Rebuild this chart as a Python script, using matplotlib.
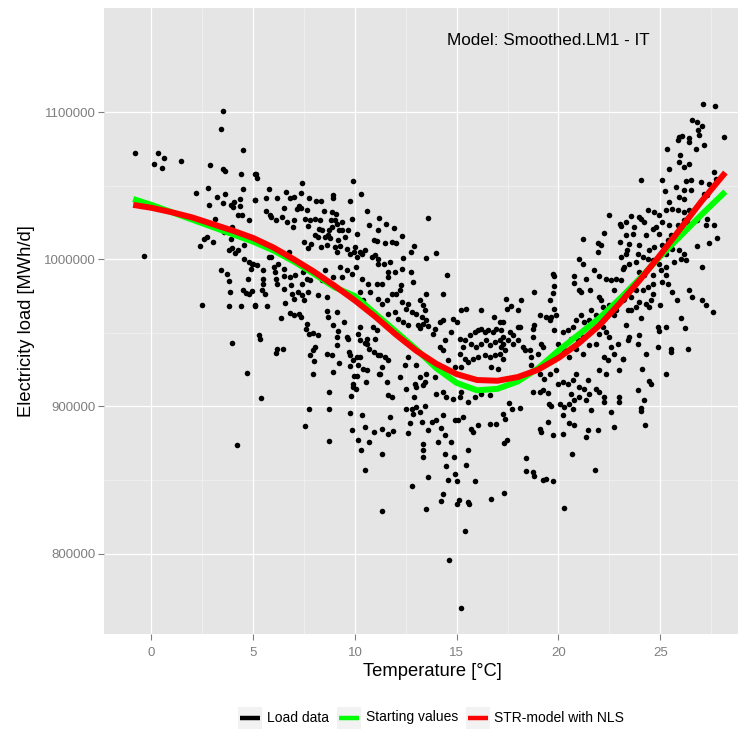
import matplotlib
matplotlib.use("Agg")
import matplotlib.pyplot as plt
from matplotlib.patches import Rectangle
from matplotlib.lines import Line2D
import numpy as np

plt.rcParams['font.family'] = ['Liberation Sans', 'DejaVu Sans']

# ---------------- data (temperature in degC, load in thousand MWh/d) ----------------
pts_cold = [
(-0.82,1072.6),(0.34,1072.6),(0.62,1069.0),(0.11,1064.6),(0.50,1062.4),(1.47,1066.7),(-0.36,1002.0),
(3.53,1100.5),(3.43,1088.6),(4.51,1074.6),(2.88,1064.4),(3.50,1061.4),(3.63,1059.7),(4.40,1057.8),(5.08,1057.8),
(2.19,1044.9),(2.79,1048.8),(3.22,1042.7),(3.63,1044.2),(4.48,1048.1),(2.84,1037.2),(3.53,1038.3),(3.89,1037.2),
(4.07,1038.8),(3.99,1035.6),(4.36,1040.8),(4.36,1036.0),(4.23,1030.4),(4.46,1030.4),(4.77,1027.0),(5.07,1040.3),
(3.12,1027.7),(3.97,1022.0),(2.71,1015.2),(2.60,1013.8),(2.40,1009.3),(3.04,1011.6),(3.56,1018.6),(3.90,1014.1),
(3.79,1006.6),(3.95,1007.7),(4.12,1004.3),(4.23,1006.1),(4.53,1009.7),(4.56,1000.1),(4.77,998.5),(4.98,997.1),
(4.89,993.4),(3.41,993.0),(3.71,990.0),(3.81,985.2),(4.72,986.6),(3.84,977.6),(4.48,979.1),(4.64,977.3),(4.77,976.2),
(4.93,978.4),(2.47,968.7),(3.81,968.0),(4.40,968.5),(5.08,968.5),(3.95,943.3),(4.69,922.9),(4.22,873.9),
]

pts_cool = [
(5.13,1058.3),(5.18,1055.6),(7.42,1052.2),(9.92,1053.1),(5.78,1047.6),(5.11,1040.1),(5.65,1041.7),(6.16,1041.7),
(6.60,1045.8),(6.83,1042.0),(6.98,1042.4),(7.34,1044.9),(7.75,1042.0),(8.10,1039.5),(8.32,1039.5),(8.90,1043.7),
(8.92,1041.7),(9.75,1039.5),(10.31,1044.7),(5.64,1032.9),(5.80,1030.0),(5.88,1028.8),(6.50,1035.2),
(6.11,1026.5),(6.40,1028.8),(6.65,1025.4),(6.98,1026.5),(6.93,1022.0),(7.14,1034.5),(7.27,1036.0),(7.35,1035.2),
(7.66,1033.3),(7.55,1027.7),(7.79,1026.5),(7.71,1022.4),(8.04,1027.7),(8.24,1020.9),(8.28,1026.5),(8.50,1032.7),
(8.86,1032.2),(9.07,1030.6),(9.02,1026.5),(8.86,1022.0),(9.10,1024.3),(8.73,1019.7),(8.66,1016.3),(8.77,1014.8),
(9.18,1012.9),(9.35,1019.7),(9.66,1020.2),(9.85,1027.7),(10.57,1032.7),(10.70,1023.6),(10.08,1017.5),
(10.95,1012.9),(11.08,1012.4),(11.14,1019.7),(8.20,1015.2),(7.47,1011.8),(7.84,1010.7),(7.71,1007.7),
(8.33,1008.2),(8.61,1009.5),(9.02,1008.4),(9.26,1008.8),(9.10,1005.0),(9.59,1007.3),(9.75,1003.9),(9.95,1005.0),
(10.08,1001.6),(10.25,1005.0),(10.36,1003.9),(10.49,1006.1),(10.82,1001.6),(10.98,1002.7),(11.11,1000.5),
(11.14,997.1),(5.75,1001.6),(5.87,1001.6),(4.93,997.1),(5.18,995.9),(5.50,992.5),(6.00,994.8),(6.24,997.1),
(6.08,991.4),(6.49,993.7),(6.78,1005.0),(6.68,1001.6),(5.47,986.9),(5.50,983.5),(5.43,978.9),(5.59,976.7),
(5.10,968.7),(5.67,968.2),(6.11,986.9),(6.16,983.5),(6.53,988.4),(6.49,980.1),(6.57,970.3),(6.37,960.1),
(6.81,988.0),(6.85,982.3),(6.90,976.7),(6.98,973.3),(6.81,963.5),(6.98,961.9),(7.27,963.0),(7.35,960.7),
(7.06,989.1),(7.44,991.4),(7.39,983.5),(7.22,977.8),(7.39,975.5),(7.50,972.1),(7.71,977.8),(7.79,985.7),(7.66,986.9),
(8.20,976.0),(8.61,964.8),(8.69,960.7),(9.13,964.1),(8.94,955.1),(9.15,951.2),(9.46,957.3),(8.64,974.4),
(7.63,955.8),(7.58,952.4),(7.76,949.5),(7.96,949.9),(8.20,948.3),(8.04,940.3),(7.96,938.1),(7.79,934.7),(7.99,930.8),
(7.96,922.2),(8.64,935.8),(8.89,934.7),(8.94,923.3),(9.23,929.5),(9.10,947.1),(9.13,941.5),(9.59,947.1),(9.67,946.0),
(9.72,936.9),(9.75,934.7),(9.75,927.2),(9.92,931.3),(10.08,933.5),(10.25,933.5),(10.16,927.9),(9.95,920.4),
(10.08,920.4),(9.89,913.1),(9.92,915.4),(9.80,906.8),(10.05,912.0),(10.41,925.6),(10.57,924.9),(10.52,916.8),
(10.25,954.0),(10.16,949.4),(10.25,944.9),(10.49,943.1),(10.57,942.2),(10.70,939.2),(10.60,946.0),(10.93,936.9),
(11.14,934.7),(11.18,922.2),(10.90,954.0),(10.98,946.0),(11.06,951.7),(8.74,909.7),(5.36,905.9),(5.26,948.3),
(5.31,945.6),(6.16,939.2),(6.13,936.5),(6.44,939.2),(7.76,898.0),(7.52,886.6),(8.74,898.6),(8.71,876.4),
(9.75,895.4),(9.84,883.7),(10.36,894.5),(10.49,885.9),(10.16,877.3),(10.28,870.7),(10.70,875.7),(10.93,882.5),
(10.49,856.7),
(8.37,1019.7),(8.53,1015.2),(8.04,1016.3),(8.81,1026.5),(9.23,1019.7),(9.35,1025.4),(9.51,1015.2),(10.00,1008.4),
(10.05,994.8),(9.59,992.5),(9.26,994.8),(9.84,990.3),(10.33,986.9),(10.65,983.5),(11.06,983.5),(10.74,977.8),
(10.25,977.8),(10.41,972.1),(9.35,988.0),(8.90,988.0),(8.53,992.5),(8.12,990.3),(8.37,985.7),
]

pts_mild = [
(11.47,1011.1),(12.00,1011.1),(12.75,1005.0),(13.51,1001.2),(12.37,1001.2),(11.72,998.2),(11.44,997.1),(11.60,991.4),
(11.96,991.4),(12.29,993.7),(12.75,991.4),(14.52,989.6),(12.86,984.6),(12.25,982.3),(12.21,978.9),(11.63,988.0),
(11.31,983.5),(11.80,976.7),(12.00,976.7),(13.48,976.7),(14.33,976.7),(11.14,973.3),(11.55,972.1),(11.31,969.9),
(12.29,970.9),(12.61,969.9),(13.19,972.6),(13.35,968.7),(12.53,966.5),(12.78,964.1),(13.02,963.0),(13.43,965.3),
(13.27,960.7),(11.96,964.1),(11.63,963.0),(12.12,959.7),(12.37,957.3),(12.61,955.1),(13.35,956.2),(13.51,958.5),
(13.10,955.1),(13.19,953.5),(13.60,954.4),(13.92,952.8),(13.84,949.5),(14.17,957.3),(14.33,958.5),(14.82,959.7),
(14.99,957.3),(14.74,950.6),(15.23,965.3),(15.43,966.0),(16.21,965.8),(16.81,960.7),(17.11,957.3),(17.27,957.3),
(15.15,946.0),(15.39,944.9),(15.64,948.3),(15.88,950.5),(16.05,951.7),(16.21,952.8),(16.37,950.5),(16.54,951.7),
(16.78,950.5),(16.95,952.8),(17.19,951.7),(15.72,942.6),(15.97,940.3),(16.21,942.6),(16.46,944.9),(16.62,941.5),
(16.86,943.7),(17.11,944.9),(17.27,942.6),(15.39,932.4),(15.80,932.4),(16.05,933.5),(16.37,934.7),(16.62,933.5),
(16.86,934.7),(17.11,935.8),(17.27,932.4),(16.70,926.7),(17.03,925.6),(15.23,926.7),(15.56,930.1),(14.90,926.7),
(14.57,931.3),(14.33,938.1),(14.17,940.3),(14.41,944.9),(15.15,935.8),(15.31,940.3),
(11.23,934.7),(11.47,933.5),(11.63,931.3),(11.31,926.7),(11.23,922.2),(12.21,920.0),(12.45,927.9),(12.61,933.5),
(13.02,927.9),(13.19,920.0),(13.43,916.5),(13.51,922.2),(13.92,920.0),(11.55,916.5),(12.49,912.0),(12.94,915.4),
(13.02,913.1),(13.35,914.3),(14.00,908.6),(14.33,909.7),(14.49,906.3),(14.82,905.2),(15.15,906.3),(15.23,909.7),
(11.63,907.5),(11.80,906.3),(12.91,906.3),(15.56,902.9),(15.88,906.3),(16.21,908.6),(16.62,907.5),
(12.53,898.4),(12.78,898.4),(13.02,899.5),(13.43,900.0),(12.86,895.0),(13.19,896.1),(12.70,888.6),(13.27,889.3),
(11.72,892.7),(11.31,884.8),(11.63,881.4),(11.88,883.2),(12.58,881.8),
(14.33,893.9),(14.90,890.5),(15.07,890.5),(15.31,892.7),(15.72,884.8),(15.80,882.5),(16.05,887.1),(16.62,888.2),
(16.95,888.2),(13.97,890.5),(13.76,889.3),(13.59,883.7),(14.08,875.7),(14.41,880.3),
(14.74,875.7),(15.56,870.1),(15.88,849.7),(15.47,860.3),(14.90,854.2),(14.99,849.7),(14.49,859.9),(14.57,850.3),
(13.59,851.9),(14.33,840.6),(14.25,836.1),(12.78,845.8),(13.47,830.4),(11.31,829.2),(14.99,833.8),(15.56,834.9),
(16.70,837.2),(15.39,815.6),(14.61,795.7),(15.20,763.1),(14.85,866.0),(14.41,867.8),(13.35,870.1),
(13.35,874.6),(11.34,867.8),(14.23,885.5),(19.50,889.8),(13.32,866.0),(15.60,833.8),(15.13,836.5),
(11.2,1028.0),(11.5,1024.0),(11.9,1021.0),(12.3,1016.0),(11.8,1012.0),(12.9,1009.0),(13.6,1028.0),(14.0,1004.0),
]

pts_warm = [
(22.50,1029.9),(23.02,1024.3),(23.07,1022.4),(21.19,1014.1),(22.25,1018.2),(21.96,1011.1),(22.09,1010.0),(21.96,1005.0),
(23.02,1011.8),(23.32,1016.3),(23.35,1006.6),(21.03,1000.5),(21.19,997.1),(19.72,990.3),(19.80,988.4),(20.78,988.4),
(21.36,986.9),(21.73,992.5),(22.01,988.4),(22.34,986.9),(22.58,985.7),(22.83,986.6),(23.07,985.7),(23.19,993.7),
(19.80,981.6),(19.72,977.1),(20.78,983.9),(21.03,979.4),(21.11,977.8),(21.55,979.4),(18.82,977.8),(17.44,973.3),
(17.47,966.5),(17.68,968.0),(18.01,965.3),(18.14,972.1),
(22.01,974.4),(22.09,972.1),(22.17,967.5),(22.50,968.7),(22.71,978.9),(22.75,961.9),(22.83,965.3),(23.15,972.1),
(23.40,976.7),(23.40,965.3),(19.56,972.1),(19.80,966.5),(19.64,960.7),(19.40,960.7),(19.56,958.5),(19.89,961.9),
(19.07,961.9),(18.82,955.1),(18.74,952.8),(18.12,954.0),(18.01,954.0),(17.76,948.3),(17.60,950.5),(17.52,944.9),
(17.27,947.1),(17.35,938.1),(17.19,940.3),(17.76,942.6),(18.01,944.9),(18.25,940.3),(18.33,938.1),(18.74,947.1),
(18.58,938.1),(18.66,933.5),(18.99,935.8),(19.15,942.6),(19.23,940.3),
(19.80,951.7),(19.97,942.6),(20.21,950.5),(20.46,951.7),(20.70,954.0),(20.87,958.5),(21.11,961.9),(21.27,957.3),
(21.52,958.5),(21.60,965.3),(21.85,961.9),(20.95,944.9),(21.19,947.1),(20.62,946.0),(20.29,938.1),(20.87,939.2),
(20.54,933.5),(21.19,935.8),(21.52,941.5),(21.85,942.6),(22.01,949.5),(22.17,954.0),(22.34,950.5),(22.50,947.1),
(22.58,940.3),(22.75,935.8),(22.91,942.6),(23.15,932.4),(22.99,924.5),(22.25,933.5),(22.42,931.3),(22.01,924.5),
(22.34,922.2),
(18.66,927.9),(19.07,922.2),(19.31,918.8),(19.56,922.2),(19.89,924.5),(19.97,915.4),(20.21,916.5),(20.46,915.4),
(20.70,917.7),(20.87,922.2),(21.03,913.1),(21.27,912.0),(21.44,917.7),(21.52,908.6),(21.85,912.0),(22.01,909.7),
(18.74,909.7),(19.07,909.7),(19.23,910.9),(19.48,909.1),(20.62,908.6),(21.03,906.3),(21.36,904.1),(20.78,904.1),
(20.54,901.8),(20.05,901.8),(19.64,900.0),(19.53,901.8),(20.29,899.5),(20.70,898.4),(22.25,906.3),(22.25,902.9),
(22.99,906.3),(22.99,902.9),(21.60,897.3),(22.58,896.1),(20.21,893.9),(20.54,888.6),(20.78,887.1),(19.07,884.8),
(19.15,882.5),(19.72,880.3),(20.21,881.4),(21.44,883.7),(21.36,879.1),(21.96,884.1),(22.75,885.9),(20.67,867.8),
(18.42,865.1),(18.42,856.0),(18.74,855.3),(18.79,853.1),(19.23,850.1),(19.40,850.8),(19.72,849.7),(21.81,856.9),
(20.29,831.1),(17.32,841.3),(17.47,876.9),(17.30,875.0),(17.35,891.6),(17.27,895.0),(17.56,902.3),(17.70,898.4),
(18.12,899.1),
]

pts_hot = [
(27.11,1105.4),(27.68,1104.3),(28.14,1082.8),(26.58,1094.6),(26.83,1093.4),(27.04,1090.7),(26.86,1087.8),(26.91,1084.8),
(25.93,1083.2),(26.09,1083.7),(25.85,1081.0),(26.42,1082.5),(26.42,1079.8),(27.16,1077.5),(26.75,1075.3),(25.31,1075.3),
(25.98,1070.7),(25.90,1066.2),(26.18,1062.8),(26.42,1064.6),(25.44,1061.2),
(24.05,1054.2),(25.11,1053.7),(26.26,1053.3),(26.50,1053.7),(26.99,1052.6),(27.40,1051.5),(27.65,1059.4),(27.73,1054.9),
(25.25,1046.5),(25.77,1049.2),(26.18,1046.9),(26.50,1046.9),(27.16,1044.7),(27.32,1043.5),
(25.44,1039.0),(25.93,1042.4),(26.18,1041.3),(25.60,1034.5),(25.85,1033.3),(26.18,1032.2),(26.42,1033.3),(25.28,1033.3),
(24.95,1029.9),(24.71,1032.2),(24.38,1033.3),(25.11,1025.4),(25.44,1023.1),(25.85,1023.1),(26.18,1026.5),(26.32,1025.4),
(26.83,1026.5),(27.32,1027.7),(27.24,1023.1),(27.65,1023.1),(23.97,1028.8),(23.56,1029.3),(23.32,1025.4),(23.73,1022.0),
(24.05,1027.7),(24.22,1025.4),(23.68,1017.5),(24.30,1016.3),(24.62,1020.9),(24.79,1022.0),(24.95,1017.5),
(25.52,1016.3),(25.36,1012.9),
(26.83,1008.8),(27.40,1011.1),(27.78,1014.5),(27.04,994.8),(23.48,1010.7),(23.97,1009.5),(23.32,1003.9),(23.89,1003.9),
(24.46,1006.1),(24.71,1008.4),(25.11,1009.5),(25.28,1003.9),(25.60,1007.3),(25.93,1006.1),(26.18,1003.9),(26.26,999.3),
(26.01,1000.5),(25.69,998.2),(25.28,994.8),(24.95,997.1),(24.62,999.3),(24.38,1000.5),(24.13,1001.6),(23.81,998.2),
(23.48,997.1),(23.24,994.8),(23.07,1001.6),(23.97,991.4),(24.22,989.1),(24.62,989.1),(25.03,992.5),(25.28,989.1),
(25.11,984.6),(25.36,983.5),(24.62,983.5),(24.38,981.2),(24.13,978.9),(23.81,978.9),(23.56,974.4),(23.24,973.3),
(24.62,976.7),(24.54,972.1),(24.30,969.9),(23.97,970.9),(23.81,967.5),(23.56,965.3),(24.46,967.5),(24.99,968.7),
(25.60,977.8),(25.80,972.1),(26.39,978.9),(26.55,974.4),(27.04,972.6),(27.24,969.2),(27.60,963.9),(26.01,960.1),
(26.23,953.3),(25.28,953.9),(24.87,953.9),(24.95,951.2),(24.05,960.1),(23.32,955.1),(23.48,947.1),(23.40,945.4),
(23.97,948.3),(23.89,942.2),(24.30,935.8),(24.87,940.3),(25.52,939.2),(25.52,936.9),(26.34,938.8),(23.19,932.4),
(24.10,925.6),(25.28,922.2),(24.43,917.0),(24.56,915.4),(23.89,910.9),(24.22,904.1),(24.05,899.1),(24.05,896.8),
(24.26,887.3),
]

# fitted curves
curve_temp  = [-0.9, 0, 1, 2, 3, 4, 5, 6, 7, 8, 9, 10, 11, 12, 13, 14, 15, 16, 17, 18, 19, 20, 21, 22, 23, 24, 25, 26, 27, 28.2]
start_vals  = [1041, 1037, 1032, 1027, 1022, 1017, 1012, 1006, 998.5, 990, 981, 975, 963, 951, 939, 926, 916, 911, 912,
               917, 926, 938, 949, 960, 973, 987, 1002, 1016, 1030, 1046]
str_nls     = [1037, 1035, 1032, 1028.5, 1024, 1019.5, 1014.5, 1008, 1000, 991.5, 982, 972, 961, 949, 938, 929, 922, 918,
               917.5, 920, 925, 933, 943, 955, 970, 986, 1003, 1021, 1039, 1059]

x_ticks = [0, 5, 10, 15, 20, 25]
y_ticks = [800000, 900000, 1000000, 1100000]
legend_labels = ["Load data", "Starting values", "STR-model with NLS"]
legend_colors = ["black", "#00FF00", "#FF0000"]
annotation = "Model: Smoothed.LM1 - IT"

# ---------------- figure ----------------
W, H = 738, 729
fig = plt.figure(figsize=(W / 100, H / 100), dpi=100)
fig.patch.set_facecolor("white")

def fx(px):
    return px / W

def fy(py):
    return 1 - py / H

ax = fig.add_axes([fx(104), fy(634), fx(738) - fx(104), fy(8) - fy(634)])
ax.set_facecolor("#E5E5E5")
for s in ax.spines.values():
    s.set_visible(False)

x0px, xs = 151.5, 20.35
ax.set_xlim((104 - x0px) / xs, (738 - x0px) / xs)
ax.set_ylim(745400, 1170800)

# grid
for v in [2.5, 7.5, 12.5, 17.5, 22.5, 27.5]:
    ax.axvline(v, color="#F2F2F2", lw=0.5, zorder=0)
for v in [850000, 950000, 1050000]:
    ax.axhline(v, color="#F2F2F2", lw=0.5, zorder=0)
for v in x_ticks:
    ax.axvline(v, color="white", lw=0.9, zorder=0)
for v in y_ticks:
    ax.axhline(v, color="white", lw=0.9, zorder=0)

all_pts = pts_cold + pts_cool + pts_mild + pts_warm + pts_hot
temps = np.array([p[0] for p in all_pts])
loads = np.array([p[1] for p in all_pts]) * 1000

ax.scatter(temps, loads, s=16, color="black", linewidths=0, zorder=2)
ax.plot(curve_temp, np.array(start_vals) * 1000, color="#00FF00", lw=4.3, zorder=3, solid_capstyle="butt")
ax.plot(curve_temp, np.array(str_nls) * 1000, color="#FF0000", lw=4.3, zorder=4, solid_capstyle="butt")

ax.set_xticks(x_ticks)
ax.set_xticklabels([str(t) for t in x_ticks])
ax.set_yticks(y_ticks)
ax.set_yticklabels([str(t) for t in y_ticks])
ax.tick_params(axis="both", colors="#7F7F7F", labelcolor="#7F7F7F", labelsize=9.5, length=4, width=0.8)
ax.tick_params(axis="x", pad=5)
ax.tick_params(axis="y", pad=2)

ax.text((548 - x0px) / xs, 1100000 + (112 - 40) / 146.9 * 100000, annotation,
        ha="center", va="center", fontsize=12.3, color="black")

fig.text(fx(432), fy(672), "Temperature [°C]", ha="center", va="center", fontsize=13.2)
fig.text(fx(27), fy(321), "Electricity load [MWh/d]", ha="center", va="center", fontsize=13.2, rotation=90)

# legend (ggplot style keys)
key_cx = [250, 349, 478]
text_x = [267, 366, 494]
ly = 717.5
for cx, tx, lab, col in zip(key_cx, text_x, legend_labels, legend_colors):
    fig.add_artist(Rectangle((fx(cx - 12), fy(ly + 11)), fx(24), fy(0) - fy(22),
                             transform=fig.transFigure, facecolor="#F2F2F2", edgecolor="none"))
    fig.add_artist(Line2D([fx(cx - 10), fx(cx + 10)], [fy(ly), fy(ly)], transform=fig.transFigure,
                          color=col, lw=3.2, solid_capstyle="butt"))
    fig.text(fx(tx), fy(ly), lab, ha="left", va="center", fontsize=10)

fig.savefig("out.png", dpi=100, facecolor="white")
